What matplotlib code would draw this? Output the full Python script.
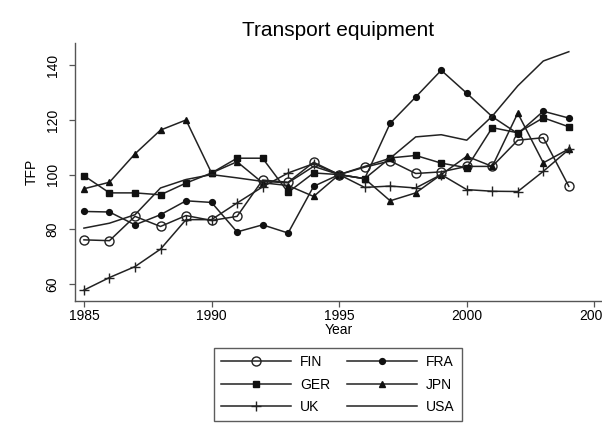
## Transport equipment TFP by country, 1985-2004

import numpy as np
import matplotlib.pyplot as plt

plt.rcParams['font.family'] = ['Liberation Sans', 'DejaVu Sans']

## Data (index, 1995 = 100)

years = list(range(1985, 2005))

fin = [76.1, 75.8, 84.7, 81.0, 85.0, 83.2, 84.7, 98.0, 97.2, 104.5,
       100.0, 102.7, 105.0, 100.4, 101.0, 103.0, 103.0, 112.6, 113.5, 95.7]
fra = [86.5, 86.3, 81.6, 85.3, 90.4, 89.8, 79.0, 81.6, 78.6, 95.7,
       100.0, 98.5, 118.8, 128.4, 138.2, 129.8, 121.2, 115.0, 123.2, 120.7]
ger = [99.6, 93.3, 93.3, 92.6, 96.9, 100.6, 106.0, 106.0, 93.5, 100.6,
       100.0, 98.5, 106.1, 107.0, 104.2, 102.5, 117.2, 115.3, 120.8, 117.5]
jpn = [94.8, 97.2, 107.6, 116.3, 120.0, 100.6, 104.7, 97.0, 96.0, 92.0,
       100.0, 98.5, 90.4, 93.3, 100.0, 106.7, 103.0, 122.5, 104.3, 109.4]
uk = [57.7, 62.3, 66.3, 72.7, 83.5, 83.5, 89.6, 95.5, 100.6, 104.0,
      100.0, 95.3, 95.8, 95.1, 100.0, 94.5, 93.9, 93.8, 101.2, 109.2]
usa = [80.4, 82.2, 85.3, 95.1, 98.2, 100.0, 98.8, 97.5, 97.0, 103.0,
       100.0, 103.0, 106.0, 113.8, 114.6, 112.6, 121.4, 132.5, 141.6, 145.0]

x_ticks = [1985, 1990, 1995, 2000, 2005]
y_ticks = [60, 80, 100, 120, 140]

## Figure

fig = plt.figure(figsize=(6.02, 4.43), dpi=100)
ax = fig.add_axes([0.1246, 0.3205, 0.8754, 0.5825])

line = dict(color='#222222', lw=1.1)
h_fin, = ax.plot(years, fin, marker='o', ms=6.5, mfc='none', mec='#222222', mew=1.0, label='FIN', **line)
h_fra, = ax.plot(years, fra, marker='o', ms=4.2, mfc='#111111', mec='#111111', label='FRA', **line)
h_ger, = ax.plot(years, ger, marker='s', ms=4.3, mfc='#111111', mec='#111111', label='GER', **line)
h_jpn, = ax.plot(years, jpn, marker='^', ms=5.0, mfc='#111111', mec='#111111', label='JPN', **line)
h_uk, = ax.plot(years, uk, marker='+', ms=6.5, mew=1.0, mec='#222222', label='UK', **line)
h_usa, = ax.plot(years, usa, label='USA', **line)

ax.set_xlim(1984.65, 2005.3)
ax.set_ylim(53.7, 148.2)
ax.set_xticks(x_ticks)
ax.set_yticks(y_ticks)

# Stata-like axes: only left and bottom
for side in ['top', 'right']:
    ax.spines[side].set_visible(False)
for side in ['left', 'bottom']:
    ax.spines[side].set_color('#555555')
    ax.spines[side].set_linewidth(1.0)

ax.tick_params(direction='out', length=4, width=0.9, color='#555555', labelsize=10)
ax.tick_params(axis='y', pad=7)
ax.tick_params(axis='x', pad=2)
plt.setp(ax.get_yticklabels(), rotation=90, va='center')

ax.set_xlabel('Year', fontsize=10, labelpad=0)
ax.set_ylabel('TFP', fontsize=10, labelpad=5)
ax.set_title('Transport equipment', fontsize=15, pad=5)

# legend rows: FIN/FRA, GER/JPN, UK/USA (matplotlib fills columns first)
handles = [h_fin, h_ger, h_uk, h_fra, h_jpn, h_usa]
leg = ax.legend(handles, [h.get_label() for h in handles],
                loc='center', bbox_to_anchor=(0.5615, 0.132), bbox_transform=fig.transFigure,
                ncol=2, fontsize=10, handlelength=5.0, columnspacing=1.2, handletextpad=0.7,
                labelspacing=0.6, fancybox=False, edgecolor='#333333', borderpad=0.5)
leg.get_frame().set_linewidth(1.0)

plt.savefig('out.png', dpi=100)
